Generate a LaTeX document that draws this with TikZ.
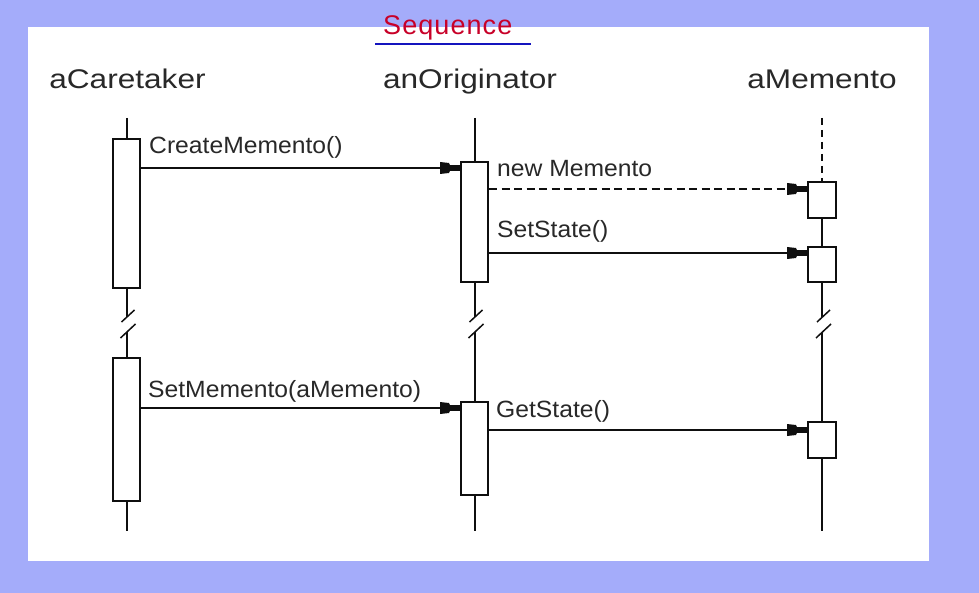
\documentclass[tikz,border=0pt]{standalone}
\usepackage{fontspec}
\setmainfont{Liberation Sans}
\newfontfamily\headfont[FakeStretch=1.17]{Liberation Sans}
\newfontfamily\labfont[FakeStretch=1.05]{Liberation Sans}
\newfontfamily\handfont[LetterSpace=4]{Liberation Sans}
\usetikzlibrary{arrows.meta,calc}
\definecolor{bgblue}{RGB}{164,172,250}
\definecolor{ink}{RGB}{15,15,15}
\definecolor{txt}{RGB}{40,40,40}
\definecolor{handred}{RGB}{200,0,40}
\definecolor{handblue}{RGB}{20,20,190}
\pgfdeclarearrow{
  name = GoFTip,
  setup code = {
    \pgfarrowssettipend{0pt}
    \pgfarrowssetlineend{-10pt}
    \pgfarrowssetbackend{-20pt}
    \pgfarrowshullpoint{0pt}{3pt}
    \pgfarrowshullpoint{0pt}{-3pt}
    \pgfarrowshullpoint{-20pt}{6pt}
    \pgfarrowshullpoint{-20pt}{-6pt}
  },
  drawing code = {
    \pgfpathmoveto{\pgfqpoint{0pt}{2.8pt}}
    \pgfpathlineto{\pgfqpoint{-10pt}{2.8pt}}
    \pgfpathlineto{\pgfqpoint{-11pt}{5pt}}
    \pgfpathlineto{\pgfqpoint{-20pt}{6pt}}
    \pgfpathlineto{\pgfqpoint{-20pt}{-6pt}}
    \pgfpathlineto{\pgfqpoint{-11pt}{-5pt}}
    \pgfpathlineto{\pgfqpoint{-10pt}{-2.8pt}}
    \pgfpathlineto{\pgfqpoint{0pt}{-2.8pt}}
    \pgfpathclose
    \pgfusepathqfill
  }
}
\begin{document}
\begin{tikzpicture}[x=1pt,y=-1pt,
  life/.style={draw=ink,line width=2pt},
  actbox/.style={draw=ink,line width=2pt,fill=white,rectangle,inner sep=0pt,minimum width=27pt},
  msg/.style={draw=ink,line width=2pt,-{GoFTip}},
  dmsg/.style={msg,dash pattern=on 8pt off 4.5pt},
  head/.style={anchor=base,inner sep=0pt,text=txt,font=\headfont\fontsize{27}{32}\selectfont},
  lbl/.style={anchor=base west,inner sep=0pt,text=txt,font=\labfont\fontsize{23.5}{28}\selectfont},
  slash/.style={draw=ink,line width=1.5pt}]
\useasboundingbox (0,0) rectangle (979,593);
\fill[bgblue] (0,0) rectangle (979,593);
\fill[white] (28,27) rectangle (929,561);
% handwritten annotation
\node[anchor=base west,inner sep=0pt,text=handred,font=\handfont\fontsize{27}{32}\selectfont] (seq) at (383,35) {Sequence};
\draw[handblue,line width=2.4pt] (375,44) -- (531,44);
% headers
\node[head] (hct) at (127.5,89) {aCaretaker};
\node[head] (hor) at (470,89) {anOriginator};
\node[head] (hme) at (822,89) {aMemento};
% activation boxes
\node[actbox,minimum height=149pt] (cb1) at (126.5,213.5) {};
\node[actbox,minimum height=143pt] (cb2) at (126.5,429.5) {};
\node[actbox,minimum height=120pt] (ob1) at (474.5,222) {};
\node[actbox,minimum height=93pt] (ob2) at (474.5,448.5) {};
\node[actbox,minimum height=36pt,minimum width=28pt] (mb1) at (822,200) {};
\node[actbox,minimum height=35pt,minimum width=28pt] (mb2) at (822,264.5) {};
\node[actbox,minimum height=36pt,minimum width=28pt] (mb3) at (822,440) {};
% lifeline end points
\coordinate (ctop) at (126.5,118); \coordinate (cbot) at (126.5,531);
\coordinate (otop) at (474.5,118); \coordinate (obot) at (474.5,531);
\coordinate (mtop) at (822,118);   \coordinate (mbot) at (822,531);
\coordinate (cbA) at (126.5,317); \coordinate (cbB) at (126.5,332);
\coordinate (obA) at (474.5,317); \coordinate (obB) at (474.5,332);
\coordinate (mbA) at (822,317);   \coordinate (mbB) at (822,332);
% lifelines
\draw[life] (ctop) -- (cb1.north);
\draw[life] (cb1.south) -- (cbA);
\draw[life] (cbB) -- (cb2.north);
\draw[life] (cb2.south) -- (cbot);
\draw[life] (otop) -- (ob1.north);
\draw[life] (ob1.south) -- (obA);
\draw[life] (obB) -- (ob2.north);
\draw[life] (ob2.south) -- (obot);
\draw[life,dash pattern=on 7pt off 5pt] (mtop) -- (mb1.north);
\draw[life] (mb1.south) -- (mb2.north);
\draw[life] (mb2.south) -- (mbA);
\draw[life] (mbB) -- (mb3.north);
\draw[life] (mb3.south) -- (mbot);
% break marks
\foreach \b in {cbA,obA,mbA}{
  \draw[slash] ($(\b)+(-5,5)$) -- ($(\b)+(8,-7)$);
  \draw[slash] ($(\b)+(-6,21)$) -- ($(\b)+(9,7)$);
}
% messages
\coordinate (y1) at (0,168);
\coordinate (y2) at (0,189);
\coordinate (y3) at (0,253);
\coordinate (y4) at (0,408);
\coordinate (y5) at (0,430);
\draw[msg] (cb1.east |- y1) -- (ob1.west |- y1);
\draw[dmsg] (ob1.east |- y2) -- (mb1.west |- y2);
\draw[msg] (ob1.east |- y3) -- (mb2.west |- y3);
\draw[msg] (cb2.east |- y4) -- (ob2.west |- y4);
\draw[msg] (ob2.east |- y5) -- (mb3.west |- y5);
% labels
\node[lbl] (l1) at (149,154) {CreateMemento()};
\node[lbl] (l2) at (497,177) {new Memento};
\node[lbl] (l3) at (497,238) {SetState()};
\node[lbl] (l4) at (148,397) {SetMemento(aMemento)};
\node[lbl] (l5) at (496,417) {GetState()};
\end{tikzpicture}
\end{document}
